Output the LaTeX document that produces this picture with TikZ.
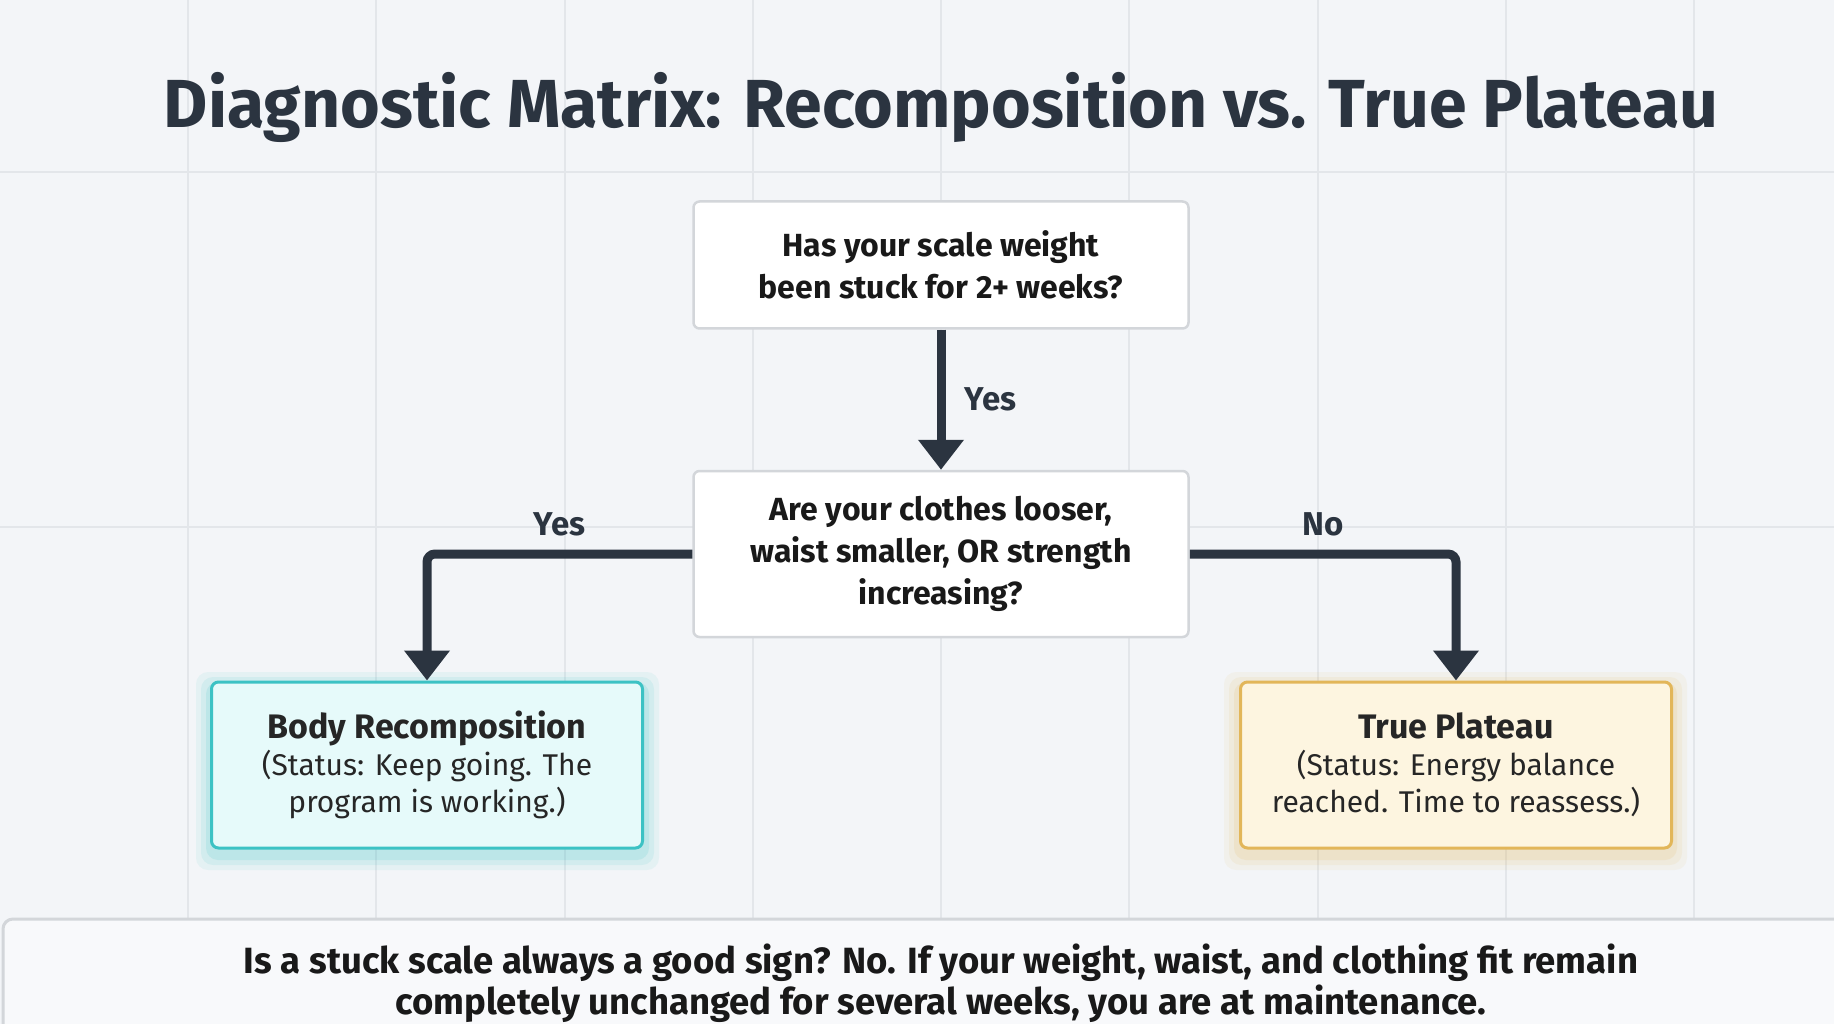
\documentclass[tikz,border=0pt]{standalone}
\usepackage{fontspec}
\setmainfont{Fira Sans}
\usetikzlibrary{arrows.meta}
\definecolor{ink}{HTML}{2B3440}
\definecolor{bg}{HTML}{F3F5F8}
\definecolor{gridc}{HTML}{E3E6EA}
\definecolor{boxb}{HTML}{D3D6DA}
\definecolor{teal}{HTML}{3CC2C4}
\definecolor{tealf}{HTML}{E6FAFA}
\definecolor{gold}{HTML}{E2B659}
\definecolor{goldf}{HTML}{FDF5E0}
\tikzset{
 q/.style={draw=boxb,line width=2.5pt,fill=white,rounded corners=6pt,align=center,font=\fontsize{32}{42}\selectfont\bfseries,text=black!90,minimum width=495pt,inner sep=0pt},
 res/.style={line width=3pt,rounded corners=7pt,align=center,minimum width=431pt,minimum height=166pt,inner sep=0pt,font=\fontsize{30}{37}\selectfont,text=black!85},
 arr/.style={draw=ink,line width=9pt,-{Triangle[length=30pt,width=44pt]}},
 lab/.style={font=\fontsize{33}{36}\selectfont\bfseries,text=ink},
}
\begin{document}
\begin{tikzpicture}[x=1pt,y=-1pt]
\useasboundingbox (0,0) rectangle (1834,1024);
\fill[bg] (0,0) rectangle (1834,1024);
\foreach \x in {188,376,565,753,941,1129,1318,1506,1694}
  \draw[gridc,line width=1.2pt] (\x,0) -- (\x,919);
\foreach \y in {172,527}
  \draw[gridc,line width=1.2pt] (0,\y) -- (1834,\y);
\node[font=\fontsize{68}{72}\selectfont\bfseries,text=ink] (title) at (941,107) {Diagnostic Matrix: Recomposition vs. True Plateau};
\node[q,minimum height=127pt] (q1) at (941,265) {Has your scale weight\\been stuck for 2+ weeks?};
\node[q,minimum height=166pt] (q2) at (941,554) {Are your clothes looser,\\waist smaller, OR strength\\increasing?};
\foreach \s/\op in {16/0.08,11/0.1,6/0.14}{
 \fill[teal,opacity=\op,rounded corners=12pt] (212-\s,682-\s+6) rectangle (643+\s,848+\s+6);
 \fill[gold,opacity=\op,rounded corners=12pt] (1240-\s,682-\s+6) rectangle (1671+\s,848+\s+6);
}
\node[res,draw=teal,fill=tealf] (l) at (427,765) {{\fontsize{34}{48}\selectfont\bfseries Body Recomposition}\\(Status: Keep going. The\\program is working.)};
\node[res,draw=gold,fill=goldf] (r) at (1456,765) {{\fontsize{34}{48}\selectfont\bfseries True Plateau}\\(Status: Energy balance\\reached. Time to reassess.)};
\draw[arr] (q1.south) -- (q2.north) node[lab,midway,right=16pt] {Yes};
\draw[arr,rounded corners=8pt] (q2.west) -| (l.north) node[lab,pos=0.25,above=10pt] {Yes};
\draw[arr,rounded corners=8pt] (q2.east) -| (r.north) node[lab,pos=0.25,above=10pt] {No};
\draw[boxb,line width=3pt,fill=bg!60!white,rounded corners=10pt] (3,919) rectangle (1850,1060);
\node[font=\fontsize{36.5}{41}\selectfont\bfseries,text=black!90,align=center] (note) at (941,983) {Is a stuck scale always a good sign? No. If your weight, waist, and clothing fit remain\\completely unchanged for several weeks, you are at maintenance.};
\end{tikzpicture}
\end{document}
